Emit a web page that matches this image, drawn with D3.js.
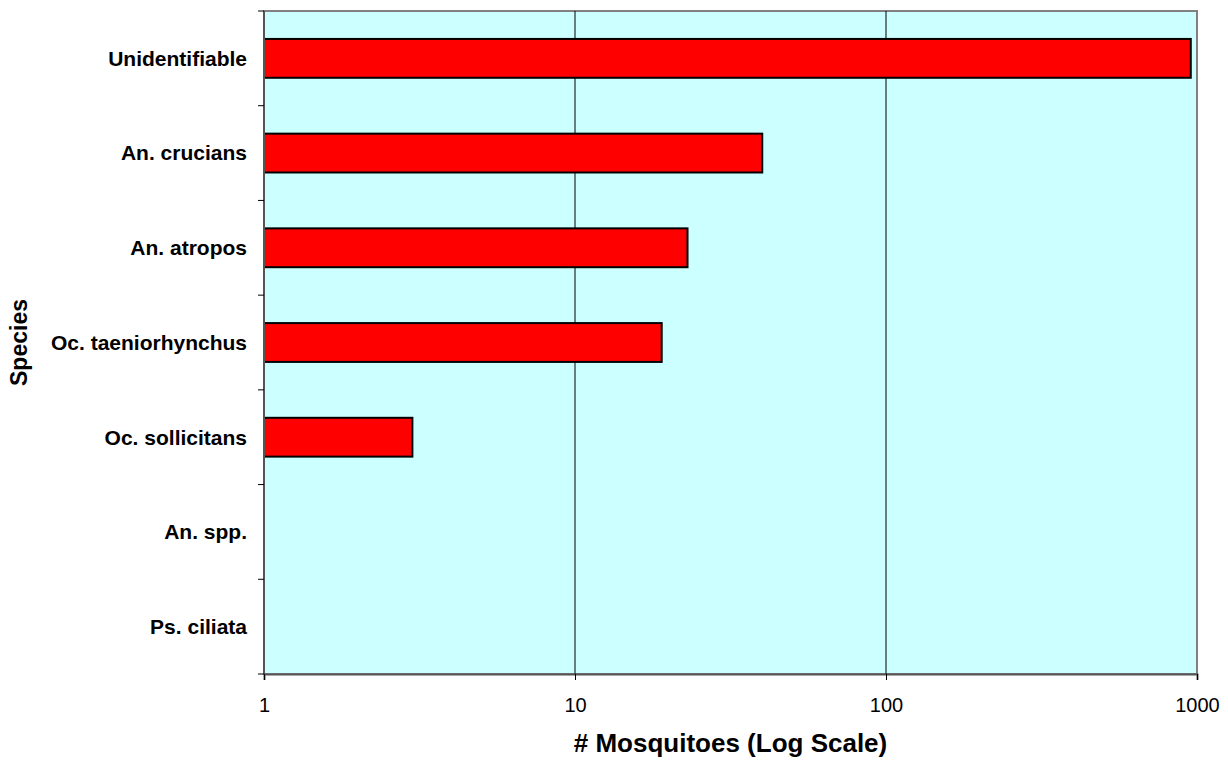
<!DOCTYPE html>
<html>
<head>
<meta charset="utf-8">
<script src="https://cdn.jsdelivr.net/npm/d3@7"></script>
<style>
  body { margin: 0; background: #fff; }
  text { font-family: Arial, "Liberation Sans", sans-serif; fill: #000; }
</style>
</head>
<body>
<svg width="1228" height="764"></svg>
<script>
'use strict'

// data
let species = ['Unidentifiable', 'An. crucians', 'An. atropos', 'Oc. taeniorhynchus',
    'Oc. sollicitans', 'An. spp.', 'Ps. ciliata'];
let counts = [955, 40, 23, 19, 3, 0, 0];
let tickValues = [1, 10, 100, 1000];

let svg = d3.select('svg'),
    margin = {top: 11, right: 31, bottom: 90, left: 264},
    width = 1228 - margin.left - margin.right,
    height = 764 - margin.top - margin.bottom;

let g = svg.append('g')
    .attr('transform', 'translate(' + margin.left + ',' + margin.top + ')');

let x = d3.scaleLog()
    .domain([1, 1000])
    .range([0, width]);

let y = d3.scaleBand()
    .domain(species)
    .range([0, height])
    .paddingInner(0.59)
    .paddingOuter(0.295);

// plot background
g.append('rect')
    .attr('width', width)
    .attr('height', height)
    .attr('fill', '#ccffff')
    .attr('stroke', '#808080')
    .attr('stroke-width', 2);

// vertical gridlines
g.append('g')
    .selectAll('line')
    .data(tickValues.slice(1, -1))
    .enter().append('line')
    .attr('x1', function(d) { return x(d); })
    .attr('x2', function(d) { return x(d); })
    .attr('y1', 0)
    .attr('y2', height)
    .attr('stroke', '#000')
    .attr('stroke-width', 1);

// bars
let rows = species.map(function(s, i) { return {name: s, value: counts[i]}; })
    .filter(function(d) { return d.value > 1; });

g.append('g')
    .selectAll('rect')
    .data(rows)
    .enter().append('rect')
    .attr('x', x(1))
    .attr('y', function(d) { return y(d.name); })
    .attr('width', function(d) { return x(d.value) - x(1); })
    .attr('height', y.bandwidth())
    .attr('fill', '#ff0000')
    .attr('stroke', '#000')
    .attr('stroke-width', 2);

// x axis
let xAxis = g.append('g')
    .attr('transform', 'translate(0,' + height + ')')
    .call(d3.axisBottom(x)
        .tickValues(tickValues)
        .tickFormat(d3.format('d'))
        .tickSize(6)
        .tickPadding(18));
xAxis.select('.domain').attr('stroke', '#555').attr('stroke-width', 2);
xAxis.selectAll('.tick line').attr('stroke', '#000');
xAxis.selectAll('.tick text')
    .style('font-size', '20px')
    .style('font-family', 'Arial, "Liberation Sans", sans-serif');

// y axis: ticks sit between categories
let yAxis = g.append('g');
yAxis.append('line')
    .attr('x1', 0).attr('x2', 0)
    .attr('y1', 0).attr('y2', height)
    .attr('stroke', '#555')
    .attr('stroke-width', 2);
let step = y.step();
yAxis.selectAll('.ytick')
    .data(d3.range(species.length + 1))
    .enter().append('line')
    .attr('class', 'ytick')
    .attr('x1', -6).attr('x2', 0)
    .attr('y1', function(d) { return d * step; })
    .attr('y2', function(d) { return d * step; })
    .attr('stroke', '#000');
yAxis.selectAll('.ylabel')
    .data(species)
    .enter().append('text')
    .attr('class', 'ylabel')
    .attr('x', -17)
    .attr('y', function(d) { return y(d) + y.bandwidth() / 2; })
    .attr('dy', '0.35em')
    .attr('text-anchor', 'end')
    .style('font-size', '21px')
    .style('font-weight', 'bold')
    .text(function(d) { return d; });

// axis titles
svg.append('text')
    .attr('x', margin.left + width / 2)
    .attr('y', 752)
    .attr('text-anchor', 'middle')
    .style('font-size', '26px')
    .style('font-weight', 'bold')
    .text('# Mosquitoes (Log Scale)');

svg.append('text')
    .attr('transform', 'translate(27,' + (margin.top + height / 2) + ') rotate(-90)')
    .attr('text-anchor', 'middle')
    .style('font-size', '23px')
    .style('font-weight', 'bold')
    .text('Species');
</script>
</body>
</html>
